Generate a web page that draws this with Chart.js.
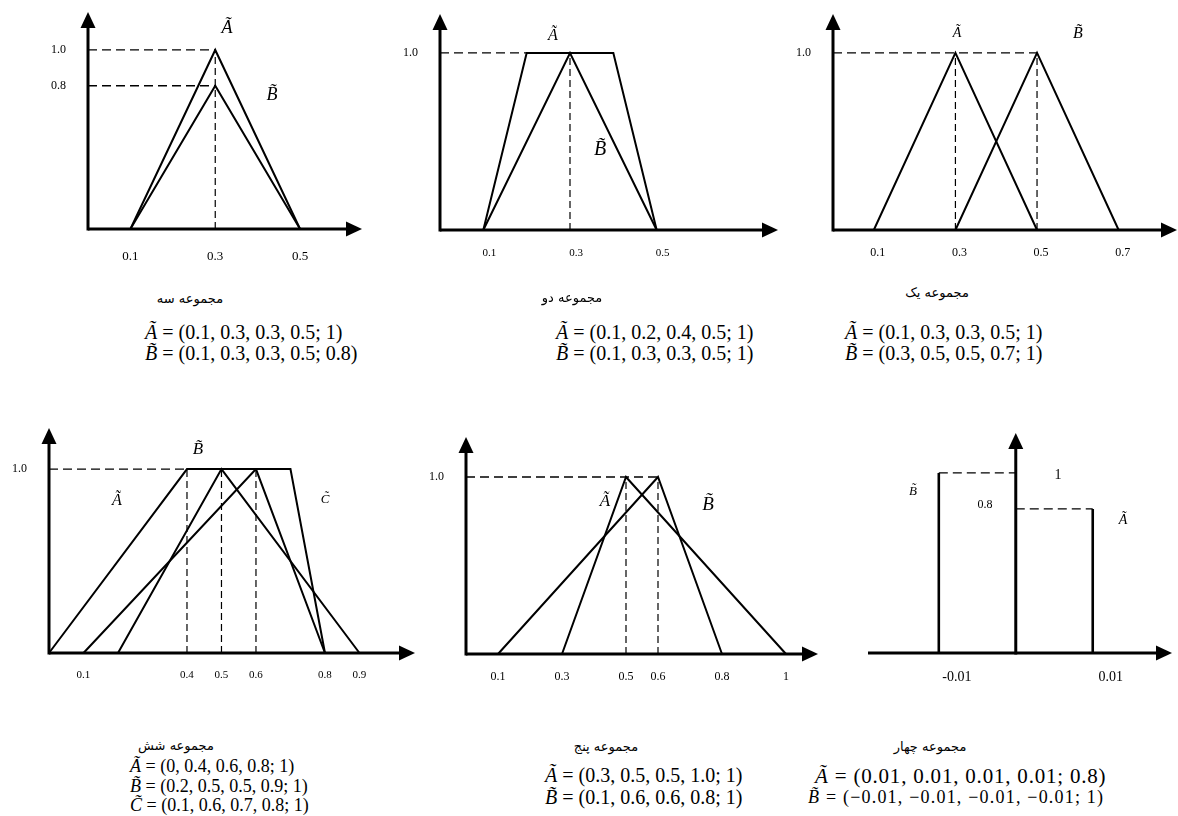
<!DOCTYPE html>
<html><head><meta charset="utf-8">
<script src="https://cdn.jsdelivr.net/npm/chart.js@4.4.1/dist/chart.umd.min.js"></script>
<style>
html,body{margin:0;padding:0;background:#fff;}
body{width:1178px;height:816px;position:relative;overflow:hidden;}
canvas{position:absolute;}
.t{position:absolute;white-space:nowrap;color:#000;line-height:1;}
.lbl{font-family:'Liberation Serif',serif;font-style:italic;transform:translate(-50%,-50%);}
.num{font-family:'Liberation Serif',serif;transform:translate(-50%,-50%);}
.title{font-family:'DejaVu Sans',sans-serif;font-size:13px;transform:translate(-50%,-50%);direction:rtl;}
.f{font-family:'Liberation Serif',serif;font-size:19px;transform:translateY(-50%);}
.f i{font-style:italic;}
</style></head><body>
<script>
// ---------- data (trapezoidal fuzzy numbers: a, b, c, d ; height) ----------
// مجموعه سه
const set3_A = [0.1, 0.3, 0.3, 0.5, 1];
const set3_B = [0.1, 0.3, 0.3, 0.5, 0.8];
const set3_xTicks = [0.1, 0.3, 0.5];
const set3_xLabels = ['0.1', '0.3', '0.5'];
const set3_yTicks = [0.8, 1.0];
const set3_yLabels = ['0.8', '1.0'];
const set3_hGuides = [[1.0, 0, 0.3], [0.8, 0, 0.3]];
const set3_vGuides = [[0.3, 1.0]];
// مجموعه دو
const set2_A = [0.1, 0.2, 0.4, 0.5, 1];
const set2_B = [0.1, 0.3, 0.3, 0.5, 1];
const set2_xTicks = [0.1, 0.3, 0.5];
const set2_xLabels = ['0.1', '0.3', '0.5'];
const set2_yTicks = [1.0];
const set2_yLabels = ['1.0'];
const set2_hGuides = [[1.0, 0, 0.2]];
const set2_vGuides = [[0.3, 1.0]];
// مجموعه یک
const set1_A = [0.1, 0.3, 0.3, 0.5, 1];
const set1_B = [0.3, 0.5, 0.5, 0.7, 1];
const set1_xTicks = [0.1, 0.3, 0.5, 0.7];
const set1_xLabels = ['0.1', '0.3', '0.5', '0.7'];
const set1_yTicks = [1.0];
const set1_yLabels = ['1.0'];
const set1_hGuides = [[1.0, 0, 0.5]];
const set1_vGuides = [[0.3, 1.0], [0.5, 1.0]];
// مجموعه شش
const set6_A = [0, 0.4, 0.6, 0.8, 1];
const set6_B = [0.2, 0.5, 0.5, 0.9, 1];
const set6_C = [0.1, 0.6, 0.7, 0.8, 1];
const set6_xTicks = [0.1, 0.4, 0.5, 0.6, 0.8, 0.9];
const set6_xLabels = ['0.1', '0.4', '0.5', '0.6', '0.8', '0.9'];
const set6_yTicks = [1.0];
const set6_yLabels = ['1.0'];
const set6_hGuides = [[1.0, 0, 0.4]];
const set6_vGuides = [[0.4, 1.0], [0.5, 1.0], [0.6, 1.0]];
// مجموعه پنج
const set5_A = [0.3, 0.5, 0.5, 1.0, 1];
const set5_B = [0.1, 0.6, 0.6, 0.8, 1];
const set5_xTicks = [0.1, 0.3, 0.5, 0.6, 0.8, 1];
const set5_xLabels = ['0.1', '0.3', '0.5', '0.6', '0.8', '1'];
const set5_yTicks = [1.0];
const set5_yLabels = ['1.0'];
const set5_hGuides = [[1.0, 0, 0.6]];
const set5_vGuides = [[0.5, 1.0], [0.6, 1.0]];
// مجموعه چهار
const set4_A = [0.01, 0.01, 0.01, 0.01, 0.8];
const set4_B = [-0.01, -0.01, -0.01, -0.01, 1];
const set4_xTicks = [-0.01, 0.01];
const set4_xLabels = ['-0.01', '0.01'];
const set4_yTicks = [];
const set4_yLabels = [];
const set4_hGuides = [[1.0, -0.01, 0], [0.8, 0, 0.01]];
const set4_vGuides = [];

// ---------- layout (pixel boxes of each plot area) ----------
const panels = [
  {sets:[set3_A,set3_B], xT:set3_xTicks, xL:set3_xLabels, yT:set3_yTicks, yL:set3_yLabels, hG:set3_hGuides, vG:set3_vGuides,
   box:[88,12,362,229], xmin:0, xmax:0.646, ymax:1.212, yAxisAt:0, tickFont:13, padX:20, lo:0, lw:2},
  {sets:[set2_A,set2_B], xT:set2_xTicks, xL:set2_xLabels, yT:set2_yTicks, yL:set2_yLabels, hG:set2_hGuides, vG:set2_vGuides,
   box:[440,14,778,230], xmin:0, xmax:0.78, ymax:1.22, yAxisAt:0, tickFont:11, padX:17, lo:6, lw:2},
  {sets:[set1_A,set1_B], xT:set1_xTicks, xL:set1_xLabels, yT:set1_yTicks, yL:set1_yLabels, hG:set1_hGuides, vG:set1_vGuides,
   box:[833,14,1177,230], xmin:0, xmax:0.843, ymax:1.22, yAxisAt:0, tickFont:12, padX:16, lo:4, lw:2},
  {sets:[set6_A,set6_B,set6_C], xT:set6_xTicks, xL:set6_xLabels, yT:set6_yTicks, yL:set6_yLabels, hG:set6_hGuides, vG:set6_vGuides,
   box:[49,428,415,653], xmin:0, xmax:1.061, ymax:1.223, yAxisAt:0, tickFont:11, padX:16, lo:0, lw:2},
  {sets:[set5_A,set5_B], xT:set5_xTicks, xL:set5_xLabels, yT:set5_yTicks, yL:set5_yLabels, hG:set5_hGuides, vG:set5_vGuides,
   box:[466,437,818,654], xmin:0, xmax:1.1, ymax:1.226, yAxisAt:0, tickFont:12, padX:16, lo:0, lw:2},
  {sets:[set4_A,set4_B], xT:set4_xTicks, xL:set4_xLabels, yT:set4_yTicks, yL:set4_yLabels, hG:set4_hGuides, vG:set4_vGuides,
   box:[868,433,1172,653], xmin:-0.0192, xmax:0.0203, ymax:1.222, yAxisAt:0, tickFont:14, padX:16, lo:18, lw:2.6}
];

const YW = 70, PADT = 6, PADR = 10, XH = 40;

const axesPlugin = {
  id:'axesArrows',
  afterDatasetsDraw(chart){
    const cfg = chart.config.options.plugins.axesArrows;
    const {ctx, chartArea:a, scales:{x, y}} = chart;
    const ax = x.getPixelForValue(cfg.yAxisAt);
    const ay = y.getPixelForValue(0);
    ctx.save();
    ctx.strokeStyle = '#000'; ctx.fillStyle = '#000'; ctx.lineWidth = 3;
    // y axis
    ctx.beginPath(); ctx.moveTo(ax, ay + 1.5); ctx.lineTo(ax, a.top + 14); ctx.stroke();
    ctx.beginPath(); ctx.moveTo(ax, a.top); ctx.lineTo(ax - 7.5, a.top + 16); ctx.lineTo(ax + 7.5, a.top + 16); ctx.closePath(); ctx.fill();
    // x axis
    ctx.beginPath(); ctx.moveTo(a.left, ay); ctx.lineTo(a.right - 14, ay); ctx.stroke();
    ctx.beginPath(); ctx.moveTo(a.right, ay); ctx.lineTo(a.right - 16, ay - 7.5); ctx.lineTo(a.right - 16, ay + 7.5); ctx.closePath(); ctx.fill();
    ctx.restore();
  }
};

function trap(p){ return [{x:p[0],y:0},{x:p[1],y:p[4]},{x:p[2],y:p[4]},{x:p[3],y:0}]; }

panels.forEach((p) => {
  const [l, t, r, b] = p.box;
  const cv = document.createElement('canvas');
  const W = (r - l) + YW + PADR, H = (b - t) + PADT + XH;
  cv.width = W; cv.height = H;
  cv.style.left = (l - YW) + 'px'; cv.style.top = (t - PADT) + 'px';
  document.body.appendChild(cv);
  const datasets = [];
  p.hG.forEach(g => datasets.push({data:[{x:g[1],y:g[0]},{x:g[2],y:g[0]}], borderColor:'#000', borderWidth:1.3, borderDash:[9,5], pointRadius:0, showLine:true, clip:false}));
  p.vG.forEach(g => datasets.push({data:[{x:g[0],y:0},{x:g[0],y:g[1]}], borderColor:'#000', borderWidth:1.2, borderDash:[7,4], pointRadius:0, showLine:true, clip:false}));
  p.sets.forEach(s => datasets.push({data:trap(s), borderColor:'#000', borderWidth:p.lw, pointRadius:0, showLine:true, tension:0, clip:false, borderJoinStyle:'miter'}));
  new Chart(cv, {
    type:'scatter',
    data:{datasets},
    plugins:[axesPlugin],
    options:{
      responsive:false, animation:false, events:[],
      layout:{padding:{top:PADT, right:PADR, left:0, bottom:0}},
      plugins:{legend:{display:false}, tooltip:{enabled:false}, axesArrows:{yAxisAt:p.yAxisAt}},
      scales:{
        x:{type:'linear', min:p.xmin, max:p.xmax, grid:{display:false, drawTicks:false}, border:{display:false},
           afterBuildTicks:(sc)=>{ sc.ticks = p.xT.map(v=>({value:v})); },
           afterFit:(sc)=>{ sc.height = XH; sc.paddingLeft = 0; sc.paddingRight = 0; },
           ticks:{autoSkip:false, maxRotation:0, padding:p.padX, labelOffset:p.lo, color:'#000', font:{family:'Liberation Serif', size:p.tickFont},
                  callback:(v,i)=>p.xL[i]}},
        y:{type:'linear', min:0, max:p.ymax, grid:{display:false, drawTicks:false}, border:{display:false},
           afterBuildTicks:(sc)=>{ sc.ticks = p.yT.map(v=>({value:v})); },
           afterFit:(sc)=>{ sc.width = YW; sc.paddingTop = 0; sc.paddingBottom = 0; },
           ticks:{display:p.yT.length>0, padding:22, color:'#000', font:{family:'Liberation Serif', size:12},
                  callback:(v,i)=>p.yL[i]}}
      }
    }
  });
});

// ---------- text annotations ----------
const A_ = 'A\u0303', B_ = 'B\u0303', C_ = 'C\u0303';
const seriesLabels = [
  [A_,227,27,18],[B_,272,94,18],
  [A_,553,35,16],[B_,600,148,20],
  [A_,957,33,14],[B_,1078,33,16],
  [B_,198,448,17],[A_,117,500,16],[C_,325,498,13],
  [A_,605,500,17],[B_,708,503,19],
  [B_,913,490,13],[A_,1123,520,14]
];
const numLabels = [['1',1058,475,14],['0.8',985,504,12]];
const titles = [
  ['مجموعه سه',190,298],['مجموعه دو',572,297],['مجموعه یک',937,292],
  ['مجموعه شش',176,745],['مجموعه پنج',606,746],['مجموعه چهار',930,746]
];
const formulas = [
  [[A_,'(0.1, 0.3, 0.3, 0.5; 1)'],[B_,'(0.1, 0.3, 0.3, 0.5; 0.8)']],
  [[A_,'(0.1, 0.2, 0.4, 0.5; 1)'],[B_,'(0.1, 0.3, 0.3, 0.5; 1)']],
  [[A_,'(0.1, 0.3, 0.3, 0.5; 1)'],[B_,'(0.3, 0.5, 0.5, 0.7; 1)']],
  [[A_,'(0, 0.4, 0.6, 0.8; 1)'],[B_,'(0.2, 0.5, 0.5, 0.9; 1)'],[C_,'(0.1, 0.6, 0.7, 0.8; 1)']],
  [[A_,'(0.3, 0.5, 0.5, 1.0; 1)'],[B_,'(0.1, 0.6, 0.6, 0.8; 1)']],
  [[A_,'(0.01, 0.01, 0.01, 0.01; 0.8)'],[B_,'(\u22120.01, \u22120.01, \u22120.01, \u22120.01; 1)']]
];
// [left, first line centre y, line step, font size, letter spacing] per line group
const formulaPos = [[145,332,21,20,0],[556,332,21,20,0],[845,332,21,20,0],[130,766,19.5,18,0],[545,775,22,20,0],[815,776,21,21,0.8]];

function addText(cls, html, x, y, size, ls){
  const d = document.createElement('div');
  d.className = 't ' + cls; d.innerHTML = html;
  d.style.left = x + 'px'; d.style.top = y + 'px';
  if (size) d.style.fontSize = size + 'px';
  if (ls) d.style.letterSpacing = ls + 'px';
  document.body.appendChild(d);
  return d;
}
seriesLabels.forEach(s => addText('lbl', s[0], s[1], s[2], s[3]));
numLabels.forEach(s => addText('num', s[0], s[1], s[2], s[3]));
titles.forEach(s => addText('title', s[0], s[1], s[2]));
formulas.forEach((lines, i) => {
  const [fx, fy, dy, fs, ls] = formulaPos[i];
  lines.forEach((ln, j) => {
    const last = (i === 5 && j === 1);
    addText('f', '<i>' + ln[0] + '</i> = ' + ln[1], last ? 808 : fx, fy + j * dy, last ? 18 : fs, last ? 1.2 : ls);
  });
});
</script>
</body></html>
